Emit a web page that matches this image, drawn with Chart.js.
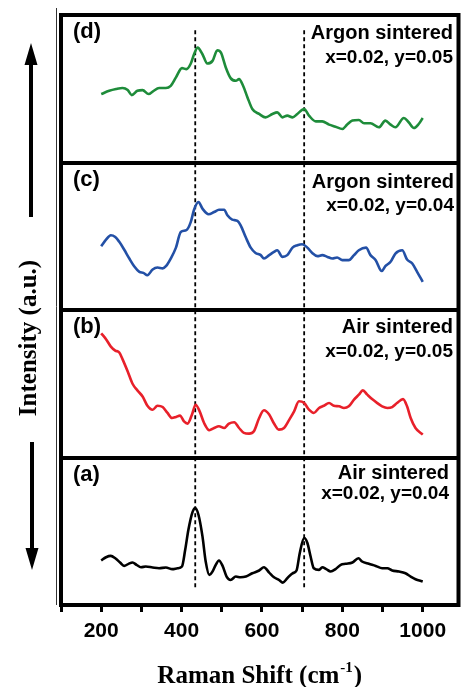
<!DOCTYPE html>
<html>
<head>
<meta charset="utf-8">
<script src="https://cdn.jsdelivr.net/npm/chart.js@4.4.1/dist/chart.umd.min.js"></script>
<style>
  html, body { margin: 0; padding: 0; background: #fff; }
  canvas { display: block; }
</style>
</head>
<body>
<canvas id="grafico" width="461" height="687"></canvas>
<script>
// Raman spectra, one panel per sample (a) -> (d), intensity in a.u. (0-100 inside a panel)
const shiftA = [200,212,224,235,247,257,268,278,288,299,311,328,344,361,377,390,401,409,417,427,434,442,452,460,469,477,485,493,502,512,522,535,547,560,576,593,605,618,630,642,652,663,676,686,694,705,713,721,729,742,750,760,771,783,796,808,825,840,849,866,883,899,912,924,941,957,970,982,1000];
const intenA = [30.2,32.4,33.3,31.7,28.8,26.5,27.9,28.8,27.2,25.6,26.1,25.4,24.9,25.4,24.3,24.9,26.1,37.4,51.0,62.8,65.8,61.2,46.5,29.5,20.4,22.7,27.2,30.2,26.5,19.3,17.0,19.3,18.8,19.3,21.5,23.4,25.6,22.0,18.8,17.0,15.2,18.1,21.5,23.4,35.1,45.4,42.0,32.9,24.9,23.8,25.6,24.3,22.7,24.3,27.2,27.9,28.8,31.7,29.5,27.9,26.5,24.9,24.9,23.4,22.7,21.5,19.3,17.5,15.9];

const shiftB = [200,212,224,235,245,253,266,278,290,303,315,328,340,353,365,376,386,396,406,415,425,435,445,456,469,481,493,506,518,531,543,555,568,580,593,605,618,630,642,655,667,680,692,705,717,729,742,754,767,779,792,804,816,829,841,851,862,874,887,899,912,924,936,951,961,970,982,1000];
const intenB = [84.2,80.2,75.2,72.5,71.2,66.7,58.3,50.0,45.5,41.4,35.1,32.4,35.1,34.2,30.2,26.8,27.5,28.4,24.5,23.0,28.4,35.8,31.3,23.4,18.5,20.0,21.2,20.0,23.0,23.9,20.0,16.7,16.2,17.8,26.8,32.0,29.1,23.0,18.9,20.0,25.2,31.3,38.1,36.9,32.4,30.2,33.6,35.1,36.9,35.1,34.7,33.6,34.7,39.2,42.6,45.5,42.6,39.6,36.9,34.7,33.6,34.2,36.9,39.6,34.7,26.8,20.0,15.5];

const shiftC = [200,212,224,235,245,257,270,282,295,305,315,328,340,353,361,373,386,398,412,423,431,442,452,467,481,493,506,514,526,539,547,560,572,584,597,605,618,630,638,651,663,676,688,700,713,725,738,750,763,775,787,800,816,829,841,859,870,883,898,907,920,932,949,961,974,986,1000];
const intenC = [43.2,47.7,50.7,49.5,46.2,41.0,34.9,29.7,25.9,25.2,23.6,27.5,28.8,28.2,29.7,34.9,42.3,52.9,54.1,59.7,68.0,73.2,68.7,64.9,66.4,68.0,68.0,64.2,61.3,60.4,57.4,49.1,42.3,38.7,37.2,34.9,37.2,39.4,40.5,36.0,37.2,42.3,43.9,44.6,42.3,38.7,36.5,37.2,36.0,34.9,35.6,33.8,33.8,37.2,40.5,42.3,37.2,33.8,26.4,29.7,32.7,38.3,40.5,34.2,31.5,25.9,19.1];

const shiftD = [200,220,237,253,266,276,290,303,318,329,344,361,373,386,401,412,423,431,440,452,464,477,489,498,510,522,535,543,553,564,576,593,609,626,638,651,663,676,688,705,717,734,750,767,783,800,812,825,841,854,870,891,907,920,932,953,965,978,990,1000];
const intenD = [46.4,48.6,49.8,50.5,49.1,45.7,48.6,49.1,46.4,48.2,50.5,50.5,52.0,57.7,64.0,63.3,67.1,73.4,77.9,73.4,67.1,68.9,76.1,74.5,64.4,57.2,55.4,56.5,52.0,44.1,36.3,32.9,30.6,32.9,34.0,30.6,31.8,30.6,32.9,36.3,31.8,27.9,27.9,25.7,24.3,22.7,25.7,28.4,28.8,26.6,26.6,23.9,28.4,25.7,23.9,30.2,27.3,23.4,26.1,30.2];

const tags = ['(a)', '(b)', '(c)', '(d)'];
const atmos = ['Air sintered', 'Air sintered', 'Argon sintered', 'Argon sintered'];
const comps = ['x=0.02, y=0.04', 'x=0.02, y=0.05', 'x=0.02, y=0.04', 'x=0.02, y=0.05'];
const peakShifts = [434, 705];   // dashed guide lines
const xTickStep = 100;           // every tick gets a mark, every other one a label
const xLabelStep = 200;

const cores = ['#000000', '#e8202a', '#2350a6', '#1e8c3a'];
const espectros = [[shiftA, intenA], [shiftB, intenB], [shiftC, intenC], [shiftD, intenD]];

// each panel is 100 units tall, panel (a) at the bottom
const datasets = espectros.map((s, i) => ({
  label: tags[i],
  data: s[0].map((x, k) => ({ x: x, y: i * 100 + s[1][k] })),
  borderColor: cores[i],
  borderWidth: 2.6,
  pointRadius: 0,
  cubicInterpolationMode: 'monotone',
  fill: false
}));

peakShifts.forEach(p => {
  datasets.push({
    label: 'pico ' + p,
    data: [{ x: p, y: 12 }, { x: p, y: 391 }],
    borderColor: '#000',
    borderWidth: 1.8,
    borderDash: [4, 3],
    pointRadius: 0
  });
});

const moldura = {
  id: 'moldura',
  afterDraw(chart) {
    const ctx = chart.ctx;
    const a = chart.chartArea;
    const ys = chart.scales.y;
    ctx.save();
    // thin line left of the frame
    ctx.strokeStyle = '#333';
    ctx.lineWidth = 1;
    ctx.beginPath();
    ctx.moveTo(56.5, 8);
    ctx.lineTo(56.5, a.bottom);
    ctx.stroke();

    ctx.strokeStyle = '#000';
    ctx.lineWidth = 4;
    ctx.strokeRect(a.left, a.top, a.right - a.left, a.bottom - a.top);

    // panel labels
    ctx.fillStyle = '#000';
    const rightX = [449, 453, 454, 453];
    const linha1 = [21, 23, 25, 24];
    const linha2 = [41, 47, 48, 48];
    for (let i = 0; i < 4; i++) {
      const topo = ys.getPixelForValue(i * 100 + 100);
      ctx.textBaseline = 'alphabetic';
      ctx.textAlign = 'left';
      ctx.font = 'bold 22px "Liberation Sans", Arial, sans-serif';
      ctx.fillText(tags[i], a.left + 12, topo + 23);
      ctx.textAlign = 'right';
      ctx.font = 'bold 20px "Liberation Sans", Arial, sans-serif';
      ctx.fillText(atmos[i], rightX[i], topo + linha1[i]);
      ctx.font = 'bold 19px "Liberation Sans", Arial, sans-serif';
      ctx.fillText(comps[i], rightX[i], topo + linha2[i]);
    }

    // y title with arrows
    ctx.save();
    ctx.translate(30, 338);
    ctx.rotate(-Math.PI / 2);
    ctx.font = 'bold 25px "Liberation Serif", "Times New Roman", serif';
    ctx.textAlign = 'center';
    ctx.textBaseline = 'middle';
    ctx.fillText('Intensity (a.u.)', 0, 0);
    ctx.restore();

    ctx.lineWidth = 4;
    ctx.beginPath();
    ctx.moveTo(31, 217); ctx.lineTo(31, 60);
    ctx.moveTo(32, 442); ctx.lineTo(32, 552);
    ctx.stroke();
    ctx.beginPath();
    ctx.moveTo(31, 43); ctx.lineTo(24.5, 65); ctx.lineTo(37.5, 65); ctx.closePath();
    ctx.moveTo(32, 570); ctx.lineTo(25.5, 548); ctx.lineTo(38.5, 548); ctx.closePath();
    ctx.fill();

    // x title with superscript
    const fBig = 'bold 25px "Liberation Serif", "Times New Roman", serif';
    const fSup = 'bold 15px "Liberation Serif", "Times New Roman", serif';
    const t1 = 'Raman Shift (cm', t2 = '-1', t3 = ')';
    ctx.font = fBig;
    const w1 = ctx.measureText(t1).width, w3 = ctx.measureText(t3).width;
    ctx.font = fSup;
    const w2 = ctx.measureText(t2).width;
    let x0 = (a.left + a.right) / 2 - (w1 + w2 + w3 + 2) / 2;
    const base = 683;
    ctx.textAlign = 'left';
    ctx.textBaseline = 'alphabetic';
    ctx.font = fBig;
    ctx.fillText(t1, x0, base);
    ctx.font = fSup;
    ctx.fillText(t2, x0 + w1 + 1, base - 11);
    ctx.font = fBig;
    ctx.fillText(t3, x0 + w1 + w2 + 2, base);
    ctx.restore();
  }
};

const ctx = document.querySelector('#grafico');
const grafico = new Chart(ctx, {
  type: 'line',
  data: { datasets: datasets },
  options: {
    responsive: false,
    animation: false,
    events: [],
    layout: { padding: { top: 15, right: 2.5, left: 0, bottom: 0 } },
    plugins: { legend: { display: false }, tooltip: { enabled: false } },
    scales: {
      x: {
        type: 'linear',
        min: 100,
        max: 1089,
        afterFit: s => { s.height = 82; },
        border: { display: false },
        grid: { display: true, drawOnChartArea: false, drawTicks: true, tickLength: 7, lineWidth: 3, color: '#000' },
        ticks: {
          stepSize: xTickStep,
          includeBounds: false,
          autoSkip: false,
          maxRotation: 0,
          minRotation: 0,
          padding: 7,
          color: '#000',
          font: { family: 'Liberation Sans', size: 21, weight: 'bold' },
          callback: function (v) {
            const n = Math.round(Number(v));
            return (n % xLabelStep === 0 && n <= 1000) ? String(n) : '';
          }
        }
      },
      y: {
        min: 0,
        max: 400,
        afterFit: s => { s.width = 61; },
        border: { display: false },
        grid: { color: '#000', lineWidth: 4, drawTicks: false },
        ticks: { display: false, stepSize: 100 }
      }
    }
  },
  plugins: [moldura]
});
</script>
</body>
</html>
